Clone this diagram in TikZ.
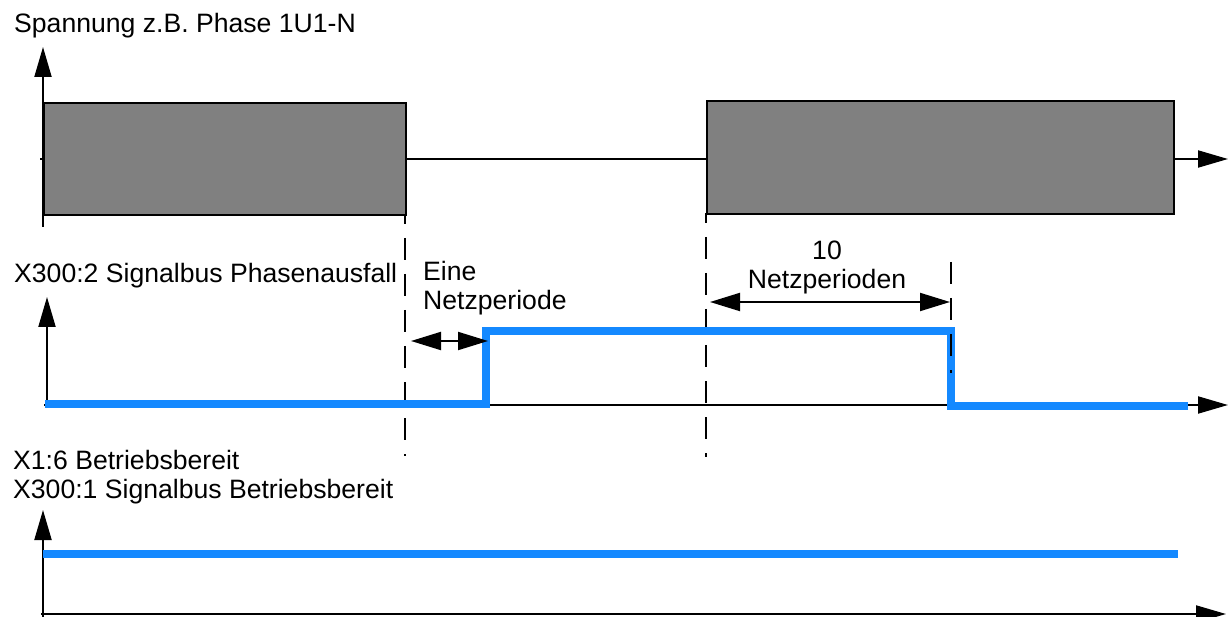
\documentclass[tikz,border=0pt]{standalone}
\usepackage{fontspec}
\setmainfont{Liberation Sans}
\usetikzlibrary{arrows.meta}
\definecolor{sigblue}{RGB}{20,137,255}
\definecolor{boxgray}{RGB}{128,128,128}
\begin{document}
\begin{tikzpicture}[x=1pt,y=-1pt,
  lbl/.style={inner sep=0pt,anchor=base west,font=\fontsize{26.6}{29}\selectfont},
  lblc/.style={inner sep=0pt,anchor=base,font=\fontsize{26.6}{29}\selectfont},
  axis/.style={line width=2pt,-{Triangle[length=30pt,width=17pt]}},
  pulse/.style={draw=black,line width=2pt,fill=boxgray},
  sig/.style={draw=sigblue,line width=7.5pt,line join=miter},
  guide/.style={line width=2.2pt,dash pattern=on 22pt off 14pt,dash phase=12pt},
  dim/.style={line width=2pt,{Triangle[length=30pt,width=18pt]}-{Triangle[length=30pt,width=18pt]}}]
\useasboundingbox (0,0) rectangle (1231,617);

% ---------- panel 1 ----------
\node[lbl] (t1) at (14,33) {Spannung z.B. Phase 1U1-N};
\coordinate (a1b) at (43,227);
\coordinate (a1t) at (43,47);
\coordinate (h1l) at (40,159);
\coordinate (h1r) at (1228,159);
\draw[axis] (a1b) -- (a1t);
\draw[axis] (h1l) -- (h1r);
\node[pulse,minimum width=362pt,minimum height=112pt,anchor=north west,inner sep=0pt] (box1) at (43,102) {};
\node[pulse,minimum width=467pt,minimum height=113pt,anchor=north west,inner sep=0pt] (box2) at (706,100) {};

% ---------- panel 2 ----------
\node[lbl] (t2) at (14,283) {X300:2 Signalbus Phasenausfall};
\coordinate (a2b) at (47,408);
\coordinate (a2t) at (47,297);
\coordinate (h2l) at (44,405);
\coordinate (h2r) at (1228,405);
\draw[axis] (a2b) -- (a2t);
\draw[axis] (h2l) -- (h2r);

% guide lines (behind signal)
\coordinate (g1t) at (405,214);
\coordinate (g1b) at (405,456);
\coordinate (g2t) at (706,213);
\coordinate (g2b) at (706,457);
\draw[guide] (g1t) -- (g1b);
\draw[guide] (g2t) -- (g2b);

\coordinate (s0) at (45,404);
\coordinate (s1) at (486,404);
\coordinate (s2) at (486,331);
\coordinate (s3) at (951,331);
\coordinate (s4) at (951,406);
\coordinate (s5) at (1188,406);
\draw[sig] (s0) -- (s1) -- (s2) -- (s3) -- (s4) -- (s5);

\coordinate (g3t) at (951,262);
\coordinate (g3b) at (951,373);
\draw[guide,dash phase=0pt] (g3t) -- (g3b);

% dimension: one period
\coordinate (d1l) at (411,341);
\coordinate (d1r) at (488,341);
\draw[dim] (d1l) -- (d1r);
\node[lbl] (e1) at (423,281) {Eine};
\node[lbl] (e2) at (423,310) {Netzperiode};

% dimension: ten periods
\coordinate (d2l) at (710,302);
\coordinate (d2r) at (950,302);
\draw[dim] (d2l) -- (d2r);
\node[lblc] (z1) at (827,260) {10};
\node[lblc] (z2) at (827,289) {Netzperioden};

% ---------- panel 3 ----------
\node[lbl] (t3a) at (13,469) {X1:6 Betriebsbereit};
\node[lbl] (t3b) at (13,498) {X300:1 Signalbus Betriebsbereit};
\coordinate (a3b) at (43,620);
\coordinate (a3t) at (43,510);
\coordinate (h3l) at (41,614);
\coordinate (h3r) at (1226,614);
\draw[axis] (a3b) -- (a3t);
\draw[axis] (h3l) -- (h3r);
\coordinate (b0) at (43,554);
\coordinate (b1) at (1178,554);
\draw[sig] (b0) -- (b1);
\end{tikzpicture}
\end{document}
